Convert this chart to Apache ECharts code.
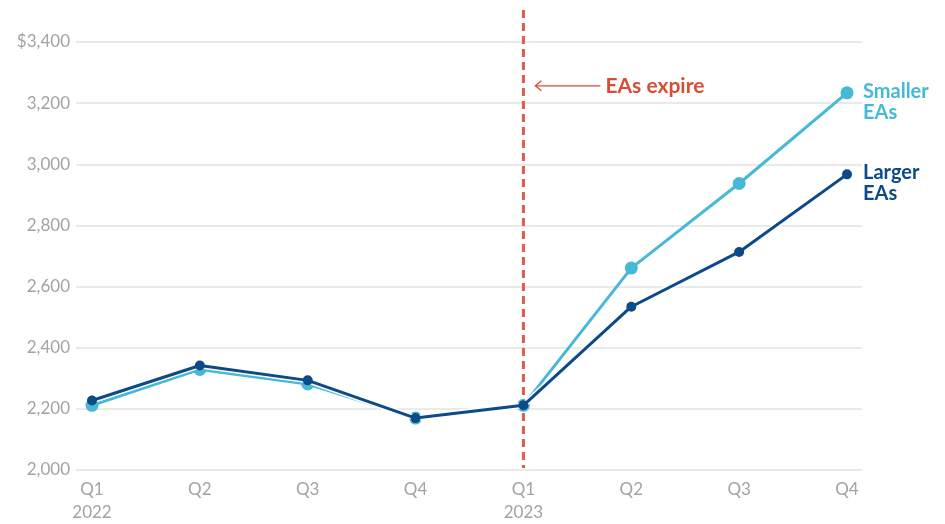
<!DOCTYPE html>
<html>
<head>
<meta charset="utf-8">
<script src="https://cdn.jsdelivr.net/npm/echarts@6/dist/echarts.min.js"></script>
<style>
  html, body { margin: 0; padding: 0; background: #fff; }
  #chart { width: 945px; height: 524px; }
</style>
</head>
<body>
<div id="chart"></div>
<script>
// Quarterly figures, 2022 Q1 through 2023 Q4
const quarters = ['Q1', 'Q2', 'Q3', 'Q4', 'Q1', 'Q2', 'Q3', 'Q4'];
const yearLabels = ['2022', '', '', '', '2023', '', '', ''];
const largerEAs = [2222, 2337, 2288, 2164, 2206, 2530, 2710, 2965];
const smallerEAs = [2206, 2324, 2276, 2164, 2206, 2657, 2935, 3233];
const yTicks = [2000, 2200, 2400, 2600, 2800, 3000, 3200, 3400];
const expiryIndex = 4;
const expiryText = 'EAs expire';
const smallerName = 'Smaller\nEAs';
const largerName = 'Larger\nEAs';

const FONT = 'Lato, "Open Sans", sans-serif';
const LIGHT = '#47b8d6';
const DARK = '#0c4a88';
const RED = '#d94d36';
const RED_DASH = '#dc5e4a';

const yMin = yTicks[0], yMax = yTicks[yTicks.length - 1];
const yStep = yTicks[1] - yTicks[0];

const chart = echarts.init(document.getElementById('chart'), null, { renderer: 'canvas' });

const option = {
  animation: false,
  backgroundColor: '#fff',
  grid: [
    { left: 76, right: 83, top: 42, bottom: 54 },
    { left: 92, right: 98, top: 42, bottom: 54 }
  ],
  xAxis: [
    { gridIndex: 0, type: 'value', min: 0, max: 1, show: false },
    {
      gridIndex: 1, type: 'category', data: quarters, boundaryGap: false,
      axisLine: { show: false }, axisTick: { show: false },
      splitLine: { show: false },
      axisLabel: {
        margin: 10, color: '#a3a3a3', fontFamily: FONT, fontSize: 17, lineHeight: 23,
        formatter: (v, i) => yearLabels[i] ? v + '\n' + yearLabels[i] : v
      }
    }
  ],
  yAxis: [
    {
      gridIndex: 0, type: 'value', min: yMin, max: yMax, interval: yStep,
      axisLine: { show: false }, axisTick: { show: false },
      splitLine: { lineStyle: { color: '#e3e3e3', width: 1.5 } },
      axisLabel: {
        margin: 6, color: '#a3a3a3', fontFamily: FONT, fontSize: 17,
        formatter: v => (v === yMax ? '$' : '') + v.toLocaleString('en-US')
      }
    },
    {
      gridIndex: 1, type: 'value', min: yMin, max: yMax, interval: yStep,
      show: false, splitLine: { show: false }
    }
  ],
  series: [
    {
      name: 'Smaller EAs', type: 'line', xAxisIndex: 1, yAxisIndex: 1,
      data: smallerEAs, symbol: 'circle', symbolSize: 13,
      lineStyle: { color: LIGHT, width: 3 }, itemStyle: { color: LIGHT },
      z: 3
    },
    {
      name: 'halo', type: 'line', xAxisIndex: 1, yAxisIndex: 1,
      data: largerEAs, symbol: 'none', silent: true,
      lineStyle: { color: '#ffffff', width: 6 }, z: 4
    },
    {
      name: 'Larger EAs', type: 'line', xAxisIndex: 1, yAxisIndex: 1,
      data: largerEAs, symbol: 'circle', symbolSize: 10,
      lineStyle: { color: DARK, width: 3 }, itemStyle: { color: DARK },
      z: 5
    }
  ]
};
chart.setOption(option);

// Annotations placed from the data scales
const px = (i, v) => chart.convertToPixel({ xAxisIndex: 1, yAxisIndex: 1 }, [i, v]);
const lastI = quarters.length - 1;
const dashBase = px(expiryIndex, yMin);
const dashTop = px(expiryIndex, yMax + 105);
const arrowY = px(expiryIndex, 3256)[1];
const smallEnd = px(lastI, smallerEAs[lastI]);
const largeEnd = px(lastI, largerEAs[lastI]);
const ex = dashBase[0];

chart.setOption({
  graphic: [
    {
      type: 'line', z: 1,
      shape: { x1: ex, y1: dashTop[1], x2: ex, y2: dashBase[1] },
      style: { stroke: RED_DASH, lineWidth: 3, lineDash: [8, 5] }
    },
    {
      type: 'line', z: 10,
      shape: { x1: ex + 12, y1: arrowY, x2: ex + 77, y2: arrowY },
      style: { stroke: RED, lineWidth: 1.3 }
    },
    {
      type: 'polyline', z: 10,
      shape: { points: [[ex + 18, arrowY - 5], [ex + 12, arrowY], [ex + 18, arrowY + 5]] },
      style: { stroke: RED, lineWidth: 1.3, fill: null }
    },
    {
      type: 'text', z: 10, x: ex + 82, y: arrowY,
      style: { text: expiryText, fill: RED, font: 'bold 21px ' + FONT, verticalAlign: 'middle' }
    },
    {
      type: 'text', z: 10, x: smallEnd[0] + 16, y: smallEnd[1] - 12,
      style: { text: smallerName, fill: LIGHT, font: 'bold 20px ' + FONT, lineHeight: 21, verticalAlign: 'top' }
    },
    {
      type: 'text', z: 10, x: largeEnd[0] + 16, y: largeEnd[1] - 12,
      style: { text: largerName, fill: DARK, font: 'bold 20px ' + FONT, lineHeight: 21, verticalAlign: 'top' }
    }
  ]
});
</script>
</body>
</html>
